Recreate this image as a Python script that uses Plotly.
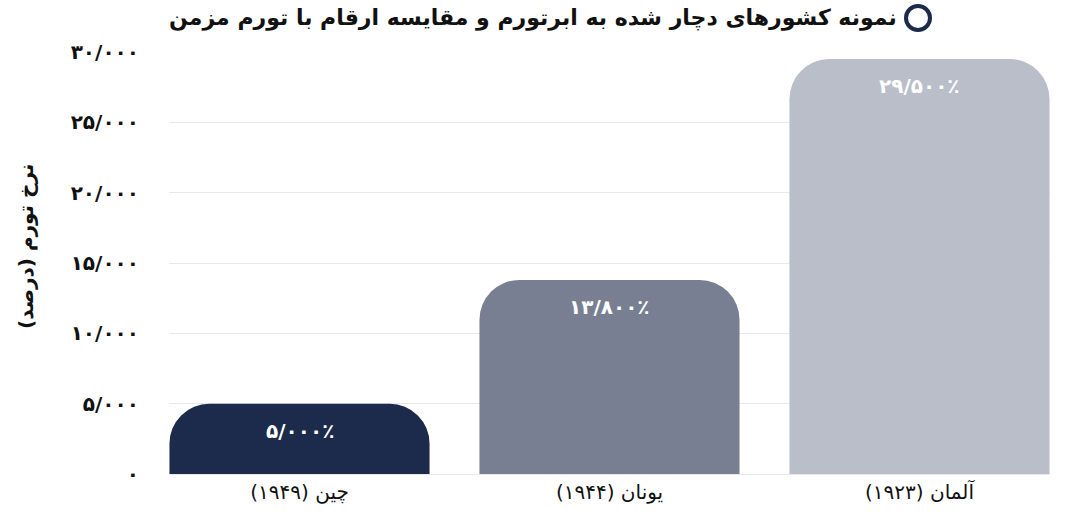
import plotly.graph_objects as go

categories = ["چین (۱۹۴۹)", "یونان (۱۹۴۴)", "آلمان (۱۹۲۳)"]
values = [5000, 13800, 29500]
value_labels = ["۵/۰۰۰٪", "۱۳/۸۰۰٪", "۲۹/۵۰۰٪"]
colors = ["#1c2a4b", "#787f92", "#b9bec9"]
tick_vals = [0, 5000, 10000, 15000, 20000, 25000, 30000]
tick_text = ["۰", "۵/۰۰۰", "۱۰/۰۰۰", "۱۵/۰۰۰", "۲۰/۰۰۰", "۲۵/۰۰۰", "۳۰/۰۰۰"]
title_text = "نمونه کشورهای دچار شده به ابرتورم و مقایسه ارقام با تورم مزمن"
y_title = "نرخ تورم (درصد)"

font_family = "DejaVu Sans, Noto Sans, sans-serif"

W, H = 1088, 519
L, T = 169, 52
R = W - 1050
B = H - 474
PW = W - L - R
PH = H - T - B

fig = go.Figure(go.Bar(
    x=categories, y=values,
    marker=dict(color=colors, cornerradius=40, line=dict(width=0)),
    hoverinfo="skip",
))

label_annotations = [
    dict(text="<b>" + lab + "</b>", x=cat, y=val, xref="x", yref="y",
         yshift=-27, xanchor="center", yanchor="middle", showarrow=False,
         font=dict(size=20, color="white", family=font_family))
    for cat, val, lab in zip(categories, values, value_labels)
]

fig.update_layout(
    width=W, height=H,
    paper_bgcolor="white", plot_bgcolor="white",
    margin=dict(l=L, r=R, t=T, b=B),
    bargap=0.161,
    showlegend=False,
    font=dict(family=font_family, color="#111"),
    annotations=label_annotations + [
        dict(text="<b>" + title_text + "</b>", xref="paper", yref="paper",
             x=(899 - L) / PW, y=1, yshift=T - 18, xanchor="right", yanchor="middle",
             showarrow=False, font=dict(size=22, color="#111", family=font_family)),
        dict(text="<b>" + y_title + "</b>", xref="paper", yref="paper",
             x=(26 - L) / PW, y=(H - B - 247) / PH, xanchor="center", yanchor="middle",
             textangle=-90, showarrow=False,
             font=dict(size=20, color="#111", family=font_family)),
    ],
    shapes=[
        dict(type="circle", xref="paper", yref="paper",
             xsizemode="pixel", ysizemode="pixel",
             xanchor=(918 - L) / PW, yanchor=1,
             x0=-12, x1=12, y0=T - 18 - 12, y1=T - 18 + 12,
             line=dict(color="#1c2a4b", width=4), fillcolor="white"),
    ],
)
fig.update_yaxes(
    range=[0, 30000], tickvals=tick_vals,
    ticktext=["<b>" + t + "</b>" for t in tick_text],
    showgrid=True, gridcolor="#e8e8e8", gridwidth=1,
    zeroline=False,
    tickfont=dict(size=20, color="#111", family=font_family),
    ticklabelstandoff=29,
)
fig.update_xaxes(
    range=[-0.421, 2.421],
    tickfont=dict(size=20, color="#111", family=font_family),
    showline=True, linecolor="#e8e8e8",
)

fig.write_html("out.html", config={"displayModeBar": False},
               post_script="document.body.style.margin='0';document.body.style.overflow='hidden';")
